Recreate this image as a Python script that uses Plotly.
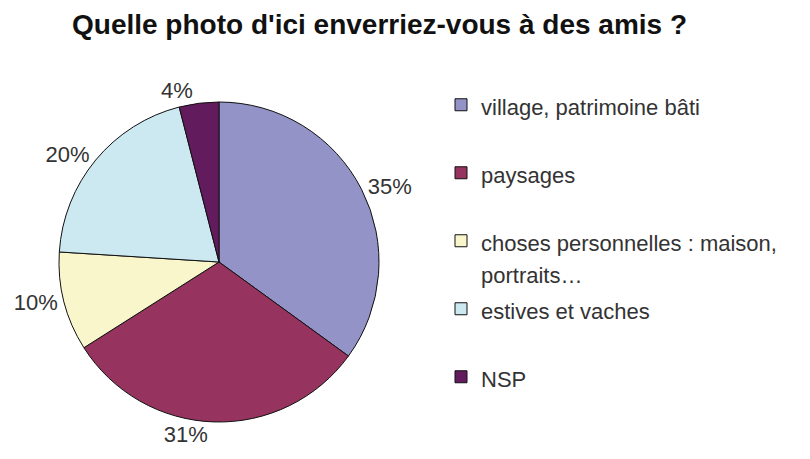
import plotly.graph_objects as go

# === Data ===
categories = [
    "village, patrimoine bâti",
    "paysages",
    "choses personnelles : maison,<br>portraits…",
    "estives et vaches",
    "NSP",
]
values = [35, 31, 10, 20, 4]
colors = ["#9393C8", "#96345F", "#FAF6CC", "#CCE8F0", "#621C5E"]

# legend text drawn at 22px inside a 25px base so entries get the wide spacing of the original
def legend_label(c):
    lines = c.split("<br>")
    txt = "<br>".join(f"<span style='font-size:22px'>{l}</span>" for l in lines)
    return txt if len(lines) > 1 else txt + "<br>&nbsp;"

legend_labels = [legend_label(c) for c in categories]

W, H = 810, 459
# page has an 8px body margin, so figure coords are page coords - 8
cx, cy, r = 211, 254, 160

fig = go.Figure()
fig.add_trace(go.Pie(
    labels=legend_labels,
    values=values,
    sort=False,
    direction="clockwise",
    rotation=0,
    marker=dict(colors=colors, line=dict(color="#111111", width=1)),
    textposition="outside",
    texttemplate="%{value}%",
    textfont=dict(family="Liberation Sans, Arial", size=22, color="#333333"),
    hovertemplate="%{value}%<extra></extra>",
    domain=dict(x=[(cx - r) / W, (cx + r) / W], y=[1 - (cy + r) / H, 1 - (cy - r) / H]),
))

fig.update_layout(
    width=W, height=H,
    margin=dict(l=0, r=0, t=0, b=0),
    paper_bgcolor="white",
    title=dict(
        text="<b>Quelle photo d'ici enverriez-vous à des amis ?</b>",
        x=64 / W, xanchor="left", y=1 - 16 / H, yanchor="middle",
        font=dict(family="Liberation Sans, Arial", size=28, color="#111111"),
    ),
    legend=dict(
        x=433 / W, y=1 - 74 / H, xanchor="left", yanchor="top",
        valign="top",
        font=dict(family="Liberation Sans, Arial", size=25, color="#333333"),
        itemwidth=30,
    ),
    showlegend=True,
)

fig.write_html("out.html")
